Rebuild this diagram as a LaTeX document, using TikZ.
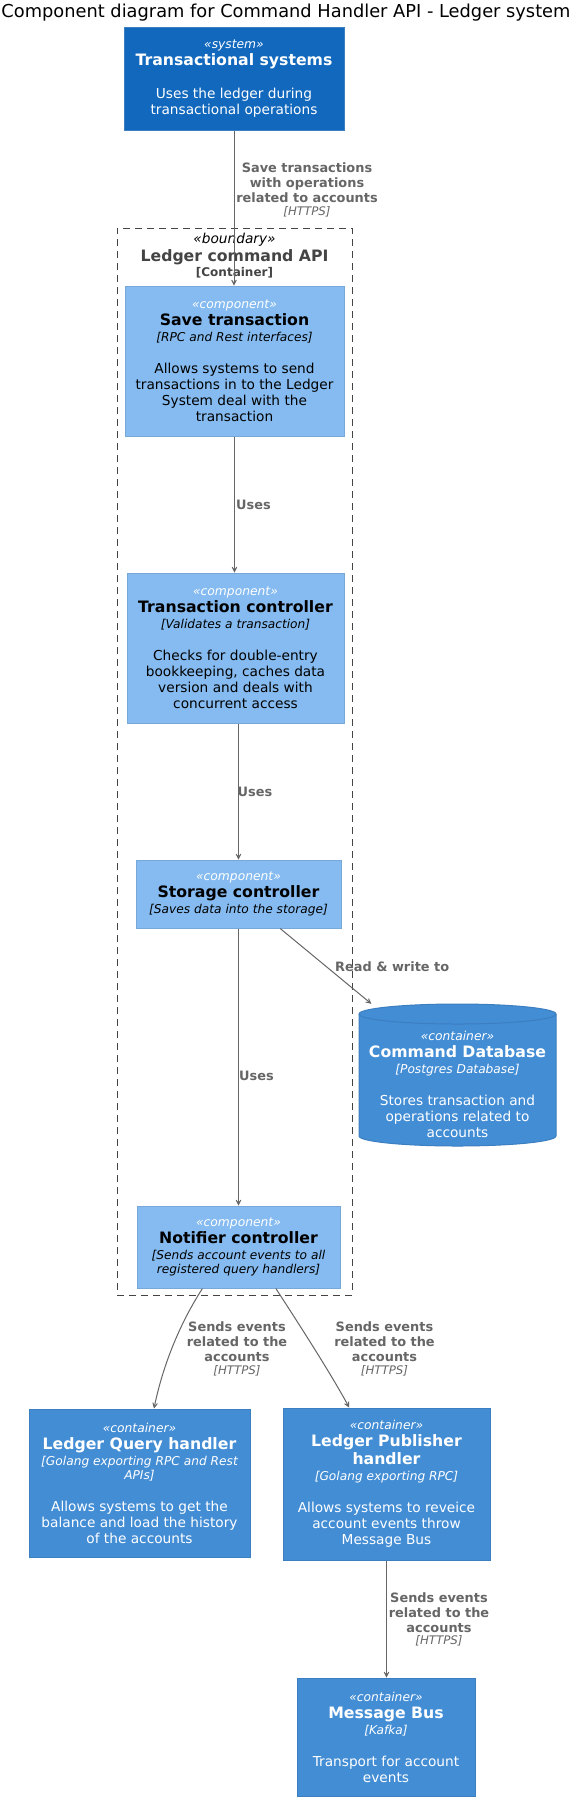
\documentclass[tikz,border=0pt]{standalone}
\usepackage{fontspec}
\setmainfont{DejaVu Sans}
\usetikzlibrary{arrows.meta}
\definecolor{sysfill}{HTML}{1168BD}
\definecolor{sysline}{HTML}{3C7FC0}
\definecolor{compfill}{HTML}{85BBF0}
\definecolor{compline}{HTML}{78A8D8}
\definecolor{contfill}{HTML}{438DD5}
\definecolor{contline}{HTML}{3C7FC0}
\definecolor{relgray}{HTML}{666666}
\definecolor{bndgray}{HTML}{444444}
\newcommand{\Ster}[1]{{\fontsize{12.3}{14}\selectfont\itshape #1}}
\newcommand{\WSter}[1]{{\color{white}\fontsize{12.3}{14}\selectfont\itshape #1}}
\newcommand{\Nm}[1]{{\fontsize{15.7}{18}\selectfont\bfseries #1}}
\newcommand{\Tch}[1]{{\fontsize{12.2}{14}\selectfont\itshape #1}}
\newcommand{\Https}{{\fontsize{11.8}{14}\selectfont\mdseries\itshape [HTTPS]}}
\tikzset{
  elem/.style={rectangle, line width=1pt, align=center, inner sep=0pt, font=\fontsize{13.7}{16}\selectfont},
  comp/.style={elem, fill=compfill, draw=compline, text=black},
  cont/.style={elem, fill=contfill, draw=contline, text=white},
  extsys/.style={elem, fill=sysfill, draw=sysline, text=white},
  rel/.style={draw=relgray, line width=1pt, -{Stealth[length=9pt,width=9pt,inset=6pt]}},
  rlab/.style={text=relgray, align=center, inner sep=0pt, font=\fontsize{12.9}{15}\selectfont\bfseries},
}
\begin{document}
\begin{tikzpicture}[x=1pt,y=-1pt]
\useasboundingbox (0,0) rectangle (576,1800);
\fill[white] (0,0) rectangle (576,1800);

\node[anchor=base, inner sep=0pt, font=\fontsize{17.8}{20}\selectfont] (title) at (286,17.5) {Component diagram for Command Handler API - Ledger system};

% boundary
\node[draw=bndgray, line width=1pt, dash pattern=on 7pt off 5pt, minimum width=235pt, minimum height=1067pt, inner sep=0pt] (bnd) at (234.5,761.5) {};
\node[align=center, inner sep=0pt, font=\fontsize{13.7}{16}\selectfont] (bhead) at (234.5,255.5) {{\itshape «boundary»}\\[2.7pt] {\color{bndgray}\fontsize{15.7}{18}\selectfont\bfseries Ledger command API}\\[-1.3pt] {\color{bndgray}\fontsize{12}{14}\selectfont\bfseries [Container]}};

% elements
\node[extsys, minimum width=220pt, minimum height=103pt] (sys) at (234,78.5)
  {\Ster{«system»}\\[0.5pt] \Nm{Transactional systems}\\[17pt] Uses the ledger during\\ transactional operations};

\node[comp, minimum width=219pt, minimum height=150pt] (save) at (234.5,361)
  {\WSter{«component»}\\[1pt] \Nm{Save transaction}\\ \Tch{[RPC and Rest interfaces]}\\[16pt] Allows systems to send\\ transactions in to the Ledger\\ System deal with the\\ transaction};

\node[comp, minimum width=217pt, minimum height=150pt] (tctrl) at (235.5,648)
  {\WSter{«component»}\\[1pt] \Nm{Transaction controller}\\ \Tch{[Validates a transaction]}\\[16pt] Checks for double-entry\\ bookkeeping, caches data\\ version and deals with\\ concurrent access};

\node[comp, minimum width=205pt, minimum height=68pt] (stor) at (238.5,894)
  {\WSter{«component»}\\[1pt] \Nm{Storage controller}\\ \Tch{[Saves data into the storage]}};

\node[comp, minimum width=203pt, minimum height=82pt] (notif) at (238.5,1247)
  {\WSter{«component»}\\[1pt] \Nm{Notifier controller}\\ \Tch{[Sends account events to all}\\[-2pt] \Tch{registered query handlers]}};

% database cylinder
\node[minimum width=197pt, minimum height=142pt, inner sep=0pt] (db) at (457.5,1075) {};
\filldraw[fill=contfill, draw=contline, line width=1pt] (359,1014) -- (359,1136)
  arc[start angle=180, end angle=360, x radius=98.5pt, y radius=10pt] -- (556,1014)
  arc[start angle=0, end angle=180, x radius=98.5pt, y radius=10pt] -- cycle;
\draw[contline, line width=1pt] (359,1014) arc[start angle=180, end angle=360, x radius=98.5pt, y radius=10pt];
\node[elem, text=white] (dbtext) at (457.5,1084)
  {\Ster{«container»}\\[1pt] \Nm{Command Database}\\ \Tch{[Postgres Database]}\\[16pt] Stores transaction and\\ operations related to\\ accounts};

\node[cont, minimum width=221pt, minimum height=148pt] (query) at (139.5,1483)
  {\Ster{«container»}\\[1pt] \Nm{Ledger Query handler}\\ \Tch{[Golang exporting RPC and Rest}\\[-2pt] \Tch{APIs]}\\[16pt] Allows systems to get the\\ balance and load the history\\ of the accounts};

\node[cont, minimum width=207pt, minimum height=152pt] (pub) at (386.5,1484)
  {\Ster{«container»}\\[1pt] \Nm{Ledger Publisher}\\[2pt] \Nm{handler}\\ \Tch{[Golang exporting RPC]}\\[16pt] Allows systems to reveice\\ account events throw\\ Message Bus};

\node[cont, minimum width=178pt, minimum height=118pt] (bus) at (386,1737)
  {\Ster{«container»}\\[1pt] \Nm{Message Bus}\\ \Tch{[Kafka]}\\[16pt] Transport for account\\ events};

% connectors
\draw[rel] (sys.south) -- (sys.south |- save.north);
\draw[rel] (save.south) -- (save.south |- tctrl.north);
\draw[rel] (stor.north |- tctrl.south) -- (stor.north);
\draw[rel] (stor.south) -- (notif.north);
\draw[rel] (stor) -- (db);
\draw[rel] (notif.229) .. controls (177,1328) and (162,1370) .. (query.79);
\draw[rel] (notif.312) .. controls (295,1318) and (330,1372) .. (pub.116);
\draw[rel] (pub.south) -- (pub.south |- bus.north);

% labels
\node[rlab] (l1) at (307,190) {Save transactions\\ with operations\\ related to accounts\\[-2.4pt] \Https};
\node[rlab, anchor=west] (u1) at (236,505) {Uses};
\node[rlab, anchor=west] (u2) at (237.5,791.5) {Uses};
\node[rlab, anchor=west] (u3) at (239,1076) {Uses};
\node[rlab, anchor=west] (rw) at (335,967) {Read \& write to};
\node[rlab] (l2) at (237,1348.7) {Sends events\\ related to the\\ accounts\\[-2.4pt] \Https};
\node[rlab] (l3) at (384.5,1348.7) {Sends events\\ related to the\\ accounts\\[-2.4pt] \Https};
\node[rlab] (l4) at (439,1619.3) {Sends events\\ related to the\\ accounts\\[-2.4pt] \Https};
\end{tikzpicture}
\end{document}
